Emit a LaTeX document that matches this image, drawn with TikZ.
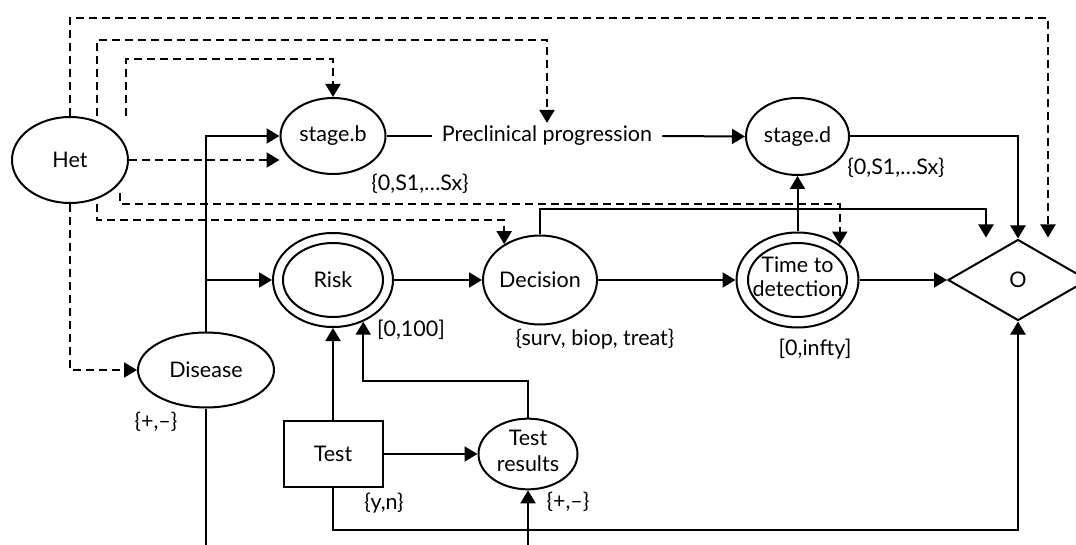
\documentclass[tikz,border=0pt]{standalone}
\usepackage{fontspec}
\setmainfont{Lato}
\usetikzlibrary{arrows.meta,shapes.geometric,calc}
\newcommand\zwtxt[1]{\makebox[0pt][c]{#1}}
\begin{document}
\begin{tikzpicture}[x=1pt,y=-1pt,
  every node/.style={font=\fontsize{21.5}{23.5}\selectfont},
  ln/.style={line width=2pt},
  arr/.style={ln,-{Triangle[length=13pt,width=15pt]}},
  dsh/.style={dash pattern=on 8pt off 5pt},
  ell/.style 2 args={ellipse,draw,line width=2pt,inner sep=0pt,minimum width=#1,minimum height=#2},
  box/.style={rectangle,draw,line width=2pt,inner sep=0pt,minimum width=99pt,minimum height=66pt},
  dia/.style={diamond,draw,line width=2pt,inner sep=0pt,minimum width=140pt,minimum height=81pt},
  lab/.style={inner sep=1pt}
]
\useasboundingbox (0,0) rectangle (1076,545);

% nodes
\node[ell={116pt}{86pt}] (het) at (70,160) {\zwtxt{Het}};
\node[ell={105pt}{76pt}] (sb) at (333,136) {\zwtxt{stage.b}};
\node[ell={103pt}{77pt}] (sd) at (797.5,136.5) {\zwtxt{stage.d}};
\node[inner xsep=10pt,inner ysep=3pt] (prog) at (547,136) {Preclinical progression};
\node[ell={136pt}{75pt}] (dis) at (206,370) {\zwtxt{Disease}};
\node[ell={120pt}{94pt}] (risk) at (333,280) {};
\node[ell={100pt}{74pt}] (riskin) at (333,280) {\zwtxt{Risk}};
\node[ell={114pt}{89pt}] (dec) at (540,280) {\zwtxt{Decision}};
\node[ell={122pt}{95pt}] (ttd) at (797.5,280) {};
\node[ell={99pt}{74pt}] (ttdin) at (797.5,280) {\zwtxt{\begin{tabular}{@{}c@{}}Time to\\detection\end{tabular}}};
\node[dia] (O) at (1018,280) {O};
\node[box] (test) at (333,454) {Test};
\node[ell={99pt}{69pt}] (tr) at (528,454) {\zwtxt{\begin{tabular}{@{}c@{}}Test\\[3pt]results\end{tabular}}};

% labels
\node[lab] (lsb) at (420,184) {\{0,S1,…Sx\}};
\node[lab] (lsd) at (896,168) {\{0,S1,…Sx\}};
\node[lab] (ldis) at (156,422) {\{+,–\}};
\node[lab] (lrisk) at (411,330) {[0,100]};
\node[lab] (ldec) at (595,339) {\{surv, biop, treat\}};
\node[lab] (lttd) at (815,349) {[0,infty]};
\node[lab] (ltest) at (384,503) {\{y,n\}};
\node[lab] (ltr) at (568,502) {\{+,–\}};

% free ends
\coordinate (oa) at ($(O.north)+(-32,-1)$);
\coordinate (ob) at ($(O.north)+(30,-1)$);
\coordinate (disb) at (206,550);
\coordinate (trb) at (528,550);

% dashed connectors from Het
\draw[arr,dsh] (het.north) -- (het.north |- 0,18) -| (ob);
\draw[arr,dsh] ($(het.north)+(27,0)$) -- ++(0,-76) -| (prog.north);
\draw[arr,dsh] ($(het.north)+(56,0)$) -- ++(0,-57) -| (sb.north);
\draw[arr,dsh] (het.east) -- (het.east -| sb.west);
\draw[arr,dsh] (het.south) |- (dis.west);
\draw[arr,dsh] ($(het.south)+(27,0)$) -- ++(0,16) -| (dec.135);
\draw[arr,dsh] ($(het.south)+(50,-11)$) -- ++(0,11) -| (ttd.40);

% solid connectors
\draw[arr] (dis.north) |- (sb.west);
\draw[arr] (dis.north |- risk.west) -- (risk.west);
\draw[ln] (dis.south) -- (disb);
\draw[ln] (sb.east) -- (prog.west);
\draw[arr] (prog.east) -- (sd.west);
\draw[arr] (sd.east) -| (O.north);
\draw[arr] (risk.east) -- (dec.west);
\draw[arr] (dec.north) -- ++(0,-25) -| (oa);
\draw[arr] (dec.east) -- (ttd.west);
\draw[arr] (ttd.north) -- (sd.south);
\draw[arr] (ttd.east) -- (O.west);
\draw[arr] (test.north) -- (risk.south);
\draw[arr] (test.east) -- (tr.west);
\draw[arr] (tr.north) -- ++(0,-37) -| (risk.306);
\draw[arr] (test.south) -- ++(0,42) -| (O.south);
\draw[arr] (trb) -- (tr.south);
\end{tikzpicture}
\end{document}
